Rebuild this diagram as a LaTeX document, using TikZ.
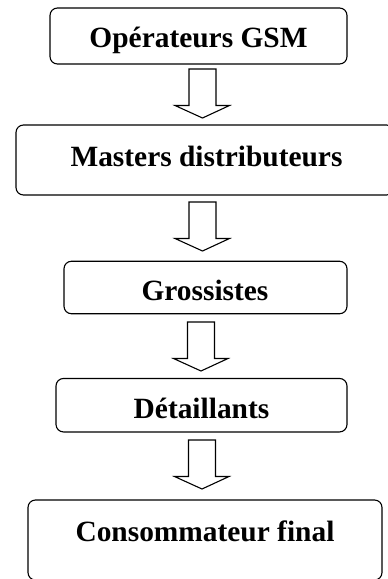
\documentclass[tikz,border=0pt]{standalone}
\usepackage{fontspec}
\setmainfont{Liberation Serif}
\newcommand{\blockarrow}[1]{%
  \draw[arrowline] ([shift={(-13.5pt,0pt)}]#1) -- ++(0pt,-36.5pt) -- ++(-14pt,0pt) -- ([shift={(0pt,-49pt)}]#1) -- ([shift={(27pt,-36.5pt)}]#1) -- ++(-13.5pt,0pt) -- ([shift={(13.5pt,0pt)}]#1) -- cycle;}
\tikzset{
  x=1pt,y=1pt,
  boxshape/.style={draw=black,line width=1.1pt,rounded corners=7.5pt,inner sep=0pt,minimum width=#1},
  labeltext/.style={font=\bfseries\fontsize{29.4}{32}\selectfont,text=black,inner sep=0pt,anchor=base},
  arrowline/.style={draw=black,line width=1.1pt,line join=miter}
}
\begin{document}
\begin{tikzpicture}
\useasboundingbox (0,0) rectangle (388,-579);
\node[boxshape=297pt,minimum height=56pt] (b1) at (198.5,-36) {};
\node[boxshape=378pt,minimum height=70pt] (b2) at (205,-160) {};
\node[boxshape=283pt,minimum height=52.5pt] (b3) at (205.5,-287.5) {};
\node[boxshape=291pt,minimum height=53.5pt] (b4) at (201.5,-405.2) {};
\node[boxshape=354pt,minimum height=80pt] (b5) at (205,-540) {};
\node[labeltext] (t1) at (198.5,-47) {Opérateurs GSM};
\node[labeltext] (t2) at (206.5,-166) {Masters distributeurs};
\node[labeltext] (t3) at (205,-300) {Grossistes};
\node[labeltext] (t4) at (201.5,-418) {Détaillants};
\node[labeltext] (t5) at (205,-541) {Consommateur final};
\coordinate (a1) at (202.5,-69);
\coordinate (a2) at (202.5,-202);
\coordinate (a3) at (201,-322);
\coordinate (a4) at (202,-440);
\blockarrow{a1}
\blockarrow{a2}
\blockarrow{a3}
\blockarrow{a4}
\end{tikzpicture}
\end{document}
